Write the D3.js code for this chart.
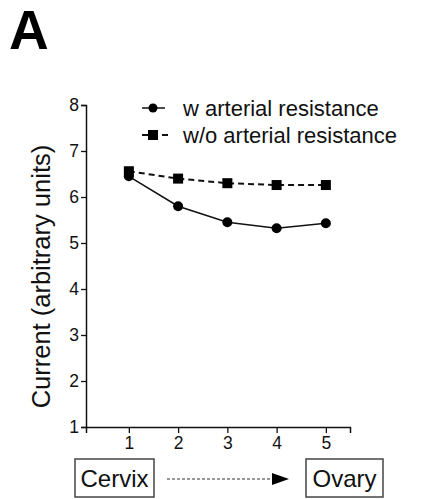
<!DOCTYPE html>
<html>
<head>
<meta charset="utf-8">
<script src="https://cdn.jsdelivr.net/npm/d3@7"></script>
<style>
  body { margin: 0; background: #fff; }
  text { font-family: "Liberation Sans", Arial, sans-serif; fill: #111; }
</style>
</head>
<body>
<div id="chart"></div>
<script>
// positions along the cervix -> ovary axis
const positions = [1, 2, 3, 4, 5]
const withResistance = [6.45, 5.8, 5.45, 5.32, 5.43]
const withoutResistance = [6.56, 6.4, 6.3, 6.26, 6.26]
const seriesNames = ["w arterial resistance", "w/o arterial resistance"]
const yTicks = [1, 2, 3, 4, 5, 6, 7, 8]
const endLabels = ["Cervix", "Ovary"]

const W = 423, H = 499

const svg = d3.select("#chart").append("svg")
  .attr("width", W)
  .attr("height", H)

// panel letter
svg.append("text")
  .attr("x", 9).attr("y", 49)
  .style("font-size", "55px")
  .style("font-weight", "bold")
  .style("fill", "#000")
  .text("A")

const x = d3.scaleLinear().domain([0.13, 5.49]).range([86, 350])
const y = d3.scaleLinear().domain([1, 8]).range([427, 105])

// axes
const yAxis = svg.append("g")
  .attr("transform", "translate(86,0)")
  .call(d3.axisLeft(y).tickValues(yTicks).tickFormat(d3.format("d")).tickSize(5).tickPadding(2))
const xAxis = svg.append("g")
  .attr("transform", "translate(0,427)")
  .call(d3.axisBottom(x).tickValues(positions).tickFormat(d3.format("d")).tickSize(6).tickPadding(4))

for (const ax of [yAxis, xAxis]) {
  ax.select(".domain").attr("stroke", "#111").attr("stroke-width", 1.5)
  ax.selectAll(".tick line").attr("stroke", "#111").attr("stroke-width", 1.3)
  ax.selectAll(".tick text")
    .style("font-size", "17.5px")
    .style("font-family", "Liberation Sans, Arial, sans-serif")
    .attr("fill", "#111")
}

// axis title
svg.append("text")
  .attr("transform", "translate(50," + y(4.27) + ") rotate(-90)")
  .attr("text-anchor", "middle")
  .style("font-size", "25.5px")
  .text("Current (arbitrary units)")

const line = d3.line()
  .x(function(d, i) { return x(positions[i]) })
  .y(function(d) { return y(d) })

// w/o arterial resistance (dashed, squares)
svg.append("path")
  .datum(withoutResistance)
  .attr("d", line)
  .attr("fill", "none")
  .attr("stroke", "#111")
  .attr("stroke-width", 2)
  .attr("stroke-dasharray", "6,4")

// w arterial resistance (solid, circles)
svg.append("path")
  .datum(withResistance)
  .attr("d", line)
  .attr("fill", "none")
  .attr("stroke", "#111")
  .attr("stroke-width", 1.5)

svg.append("g").selectAll("circle")
  .data(withResistance)
  .enter()
  .append("circle")
    .attr("cx", function(d, i) { return x(positions[i]) })
    .attr("cy", function(d) { return y(d) })
    .attr("r", 5)
    .attr("fill", "#000")

svg.append("g").selectAll("rect")
  .data(withoutResistance)
  .enter()
  .append("rect")
    .attr("x", function(d, i) { return x(positions[i]) - 5 })
    .attr("y", function(d) { return y(d) - 5 })
    .attr("width", 10)
    .attr("height", 10)
    .attr("fill", "#000")

// legend
const legend = svg.append("g")
legend.append("line")
  .attr("x1", 142).attr("x2", 165).attr("y1", 108).attr("y2", 108)
  .attr("stroke", "#111").attr("stroke-width", 1.5)
legend.append("circle").attr("cx", 153).attr("cy", 108).attr("r", 4.5).attr("fill", "#000")
legend.append("line")
  .attr("x1", 142).attr("x2", 170).attr("y1", 135).attr("y2", 135)
  .attr("stroke", "#111").attr("stroke-width", 2).attr("stroke-dasharray", "6,4")
legend.append("rect").attr("x", 148).attr("y", 130).attr("width", 10).attr("height", 10).attr("fill", "#000")
legend.selectAll("text")
  .data(seriesNames)
  .enter()
  .append("text")
    .attr("x", 183)
    .attr("y", function(d, i) { return 108 + i * 27 })
    .attr("dy", "0.35em")
    .style("font-size", "22px")
    .text(function(d) { return d })

// cervix -> ovary boxes and arrow
const boxes = [{ x0: 75, x1: 154 }, { x0: 306, x1: 383 }]
boxes.forEach(function(b, i) {
  svg.append("rect")
    .attr("x", b.x0).attr("y", 459)
    .attr("width", b.x1 - b.x0).attr("height", 38)
    .attr("fill", "none")
    .attr("stroke", "#444").attr("stroke-width", 1.5)
  svg.append("text")
    .attr("x", (b.x0 + b.x1) / 2).attr("y", 478)
    .attr("dy", "0.36em")
    .attr("text-anchor", "middle")
    .style("font-size", "24px")
    .text(endLabels[i])
})

svg.append("line")
  .attr("x1", 167).attr("x2", 274).attr("y1", 479).attr("y2", 479)
  .attr("stroke", "#333").attr("stroke-width", 1.2)
  .attr("stroke-dasharray", "3,2")
svg.append("path")
  .attr("d", "M272,473 L289,479 L272,485 Z")
  .attr("fill", "#000")
</script>
</body>
</html>
